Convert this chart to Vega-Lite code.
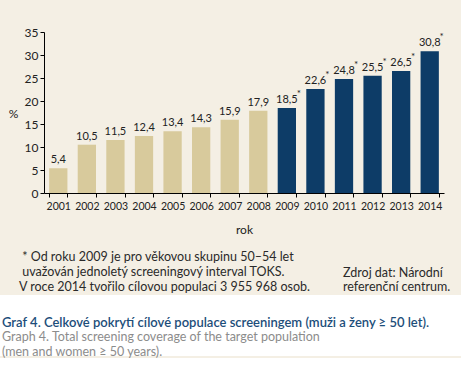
{
  "$schema": "https://vega.github.io/schema/vega-lite/v6.json",
  "background": "#f4efe4",
  "padding": {"left": 0, "top": 26, "right": 0, "bottom": 0},
  "spacing": 1,
  "config": {
    "view": {"stroke": null},
    "font": "Lato",
    "locale": {"number": {"decimal": ",", "thousands": " ", "grouping": [3], "currency": ["", " Kč"]}},
    "axis": {"domainColor": "#000000", "tickColor": "#000000", "labelColor": "#222222", "titleColor": "#222222", "labelFont": "Lato", "titleFont": "Lato", "grid": false}
  },
  "vconcat": [
    {
      "spacing": 14,
      "vconcat": [
        {
          "width": 444,
          "height": 161,
          "data": {"values": [
            {"year": "2001", "value": 5.4, "note": ""},
            {"year": "2002", "value": 10.5, "note": ""},
            {"year": "2003", "value": 11.5, "note": ""},
            {"year": "2004", "value": 12.4, "note": ""},
            {"year": "2005", "value": 13.4, "note": ""},
            {"year": "2006", "value": 14.3, "note": ""},
            {"year": "2007", "value": 15.9, "note": ""},
            {"year": "2008", "value": 17.9, "note": ""},
            {"year": "2009", "value": 18.5, "note": "*"},
            {"year": "2010", "value": 22.6, "note": "*"},
            {"year": "2011", "value": 24.8, "note": "*"},
            {"year": "2012", "value": 25.5, "note": "*"},
            {"year": "2013", "value": 26.5, "note": "*"},
            {"year": "2014", "value": 30.8, "note": "*"}
          ]},
          "encoding": {
            "x": {"field": "year", "type": "ordinal", "scale": {"range": [44, 444], "paddingInner": 0.36, "paddingOuter": 0.18},
                  "axis": {"title": "rok", "labelAngle": 0, "labelFontSize": 10.5, "labelPadding": 4, "tickSize": 4, "tickBand": "extent", "titleFontSize": 12, "titleFontWeight": "normal", "titlePadding": 13}},
            "y": {"field": "value", "type": "quantitative", "scale": {"domain": [0, 35]},
                  "axis": {"title": "%", "offset": -44, "values": [0, 5, 10, 15, 20, 25, 30, 35], "labelFontSize": 12, "labelPadding": 2, "tickSize": 4, "titleAngle": 0, "titleAlign": "center", "titleBaseline": "middle", "titleX": -31, "titleY": 81, "titleFontSize": 12, "titleFontWeight": "normal"}}
          },
          "layer": [
            {"mark": {"type": "bar"},
             "encoding": {"color": {"condition": {"test": "datum.year >= 2009", "value": "#0d3c67"}, "value": "#d8ca9c"}}},
            {"mark": {"type": "text", "baseline": "bottom", "dy": -3, "fontSize": 11, "color": "#222222"},
             "encoding": {"text": {"field": "value", "type": "quantitative", "format": ".1f"}}},
            {"mark": {"type": "text", "baseline": "bottom", "dx": 12, "dy": -9, "fontSize": 10, "color": "#222222"},
             "encoding": {"text": {"field": "note"}}}
          ]
        },
        {
          "spacing": 0,
          "hconcat": [
            {
              "width": 343, "height": 1,
              "data": {"values": []},
              "mark": {"type": "point"},
              "title": {"text": ["\u200b   * Od roku 2009 je pro věkovou skupinu 50–54 let", "\u200b   uvažován jednoletý screeningový interval TOKS.", "V roce 2014 tvořilo cílovou populaci 3 955 968 osob."],
                        "anchor": "start", "orient": "top", "offset": 0, "dx": 19, "fontSize": 12.5, "fontWeight": "normal", "color": "#2a2a2a", "lineHeight": 15, "font": "Lato"}
            },
            {
              "width": 100, "height": 1,
              "data": {"values": []},
              "mark": {"type": "point"},
              "title": {"text": ["", "Zdroj dat: Národní", "referenční centrum."],
                        "anchor": "start", "orient": "top", "offset": 0, "fontSize": 12.5, "fontWeight": "normal", "color": "#2a2a2a", "lineHeight": 14, "font": "Lato"}
            }
          ]
        }
      ]
    },
    {
      "width": 461, "height": 61,
      "view": {"fill": "#ffffff", "stroke": null},
      "data": {"values": []},
      "mark": {"type": "point"},
      "title": {"text": "Graf 4. Celkové pokrytí cílové populace screeningem (muži a ženy ≥ 50 let).",
                "subtitle": ["Graph 4. Total screening coverage of the target population", "(men and women ≥ 50 years)."],
                "anchor": "start", "orient": "top", "offset": -63, "dx": 2, "font": "Lato", "fontSize": 13, "fontWeight": 600, "color": "#1d4e7a",
                "subtitleFont": "Lato", "subtitleFontSize": 12.5, "subtitleColor": "#8c8c8c", "subtitlePadding": 1, "subtitleLineHeight": 15}
    }
  ]
}
